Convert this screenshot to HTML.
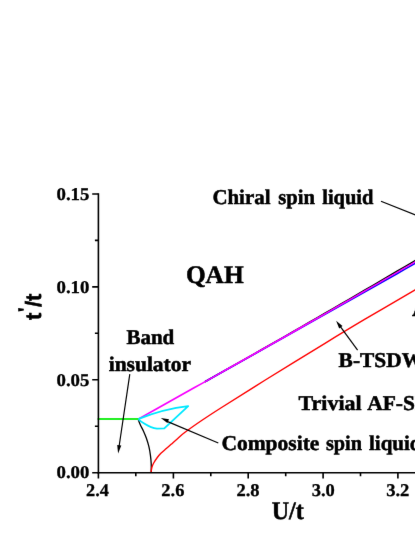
<!DOCTYPE html>
<html>
<head>
<meta charset="utf-8">
<title>Phase diagram</title>
<style>
  html, body { margin: 0; padding: 0; background: #ffffff; overflow: hidden; }
  body { width: 415px; height: 537px; overflow: hidden; position: relative; }
  .wrap { position: absolute; left: 0; top: 0; width: 415px; height: 537px; overflow: hidden; background: #ffffff; }
  svg { position: absolute; left: 0; top: 0; display: block; will-change: transform; }
  text { font-family: "Liberation Serif", serif; font-weight: bold; fill: #000; stroke: #000; stroke-width: 0.3px; text-rendering: geometricPrecision; }
  .tick { font-size: 18px; }
  .ann { font-size: 21px; }
  .sans { font-family: "Liberation Sans", sans-serif; font-weight: bold; }
</style>
</head>
<body>
<div class="wrap">
<svg width="435" height="537" viewBox="0 0 435 537">
  <defs><filter id="soft" x="0" y="0" width="100%" height="100%" filterUnits="objectBoundingBox" color-interpolation-filters="sRGB"><feConvolveMatrix order="3" kernelMatrix="0.00276 0.04704 0.00276 0.04704 0.80077 0.04704 0.00276 0.04704 0.00276" edgeMode="duplicate" preserveAlpha="true"/></filter></defs>
  <g filter="url(#soft)">
  <rect x="0" y="0" width="435" height="537" fill="#ffffff"/>

  <!-- curves -->
  <g fill="none" stroke-linecap="butt" stroke-linejoin="round">
    <!-- black curve down -->
    <path d="M138.10,419.10 C138.48,420.08 139.52,423.02 140.40,425.00 C141.28,426.98 142.40,428.78 143.40,431.00 C144.40,433.22 145.48,435.68 146.40,438.30 C147.32,440.92 148.23,443.90 148.90,446.70 C149.57,449.50 150.02,452.28 150.40,455.10 C150.78,457.92 151.07,460.67 151.20,463.60 C151.33,466.53 151.20,471.18 151.20,472.70" stroke="#000000" stroke-width="1.3"/>
    <!-- red -->
    <path d="M151.00,472.70 C151.15,471.78 151.45,468.82 151.90,467.20 C152.35,465.58 152.80,464.62 153.70,463.00 C154.60,461.38 156.10,459.12 157.30,457.50 C158.50,455.88 159.40,454.80 160.90,453.30 C162.40,451.80 164.60,450.00 166.30,448.50 C168.00,447.00 169.28,445.90 171.10,444.30 C172.92,442.70 174.88,440.90 177.20,438.90 C179.52,436.90 180.87,435.40 185.00,432.30 C189.13,429.20 196.03,424.35 202.00,420.30 C207.97,416.25 210.25,414.72 220.80,408.00 C231.35,401.28 247.93,390.78 265.30,380.00 C282.67,369.22 308.38,353.43 325.00,343.30 C341.62,333.17 349.83,328.18 365.00,319.20 C380.17,310.22 407.50,294.37 416.00,289.40 L436,277.7" stroke="#ff0000" stroke-width="1.35"/>
    <!-- black top line -->
    <path d="M205.00,381.73 L213.00,377.21 L221.00,372.69 L229.00,368.17 L237.00,363.64 L245.00,359.10 L253.00,354.56 L261.00,350.01 L269.00,345.46 L277.00,340.90 L285.00,336.33 L293.00,331.72 L301.00,327.11 L309.00,322.49 L317.00,317.86 L325.00,313.23 L333.00,308.59 L341.00,303.95 L349.00,299.30 L357.00,294.65 L365.00,289.99 L373.00,285.31 L381.00,280.62 L389.00,275.93 L397.00,271.24 L405.00,266.53 L413.00,261.84 L421.00,257.15 L429.00,252.44 L436.00,248.32" stroke="#000000" stroke-width="1.5"/>
    <!-- blue line -->
    <path d="M205.00,381.73 L213.00,377.26 L221.00,372.79 L229.00,368.31 L237.00,363.83 L245.00,359.34 L253.00,354.85 L261.00,350.35 L269.00,345.85 L277.00,341.34 L285.00,336.82 L293.00,332.34 L301.00,327.86 L309.00,323.37 L317.00,318.87 L325.00,314.37 L333.00,309.87 L341.00,305.36 L349.00,300.84 L357.00,296.32 L365.00,291.79 L373.00,287.27 L381.00,282.74 L389.00,278.21 L397.00,273.68 L405.00,269.13 L413.00,264.57 L421.00,260.00 L429.00,255.43 L436.00,251.42" stroke="#0000ff" stroke-width="1.6"/>
    <!-- magenta line -->
    <path d="M137.71,418.40 L145.71,413.95 L153.71,409.49 L161.70,405.03 L169.70,400.56 L177.70,396.08 L185.69,391.60 L193.69,387.12 L201.69,382.63 L209.69,378.13 L217.68,373.63 L225.68,369.12 L233.68,364.61 L241.68,360.09 L249.67,355.57 L257.67,351.04 L265.67,346.51 L273.66,341.97 L281.66,337.43 L289.66,332.88 L297.66,328.32 L305.66,323.78 L313.67,319.23 L321.68,314.68 L329.69,310.13 L337.70,305.56 L345.70,301.00 L353.71,296.43 L361.72,291.85 L369.73,287.27 L377.74,282.68 L385.74,278.07 L393.74,273.46 L401.74,268.84 L409.74,264.21 L417.74,259.58 L425.74,254.95 L433.74,250.30 L435.64,249.20 L436.36,250.45 L434.46,251.55 L426.46,256.19 L418.46,260.83 L410.46,265.46 L402.46,270.08 L394.46,274.70 L386.46,279.32 L378.46,283.93 L370.47,288.55 L362.48,293.17 L354.49,297.78 L346.50,302.38 L338.50,306.98 L330.51,311.57 L322.52,316.16 L314.53,320.74 L306.54,325.32 L298.54,329.89 L290.54,334.43 L282.54,338.97 L274.54,343.51 L266.53,348.04 L258.53,352.56 L250.53,357.08 L242.52,361.60 L234.52,366.11 L226.52,370.61 L218.52,375.11 L210.51,379.60 L202.51,384.09 L194.51,388.57 L186.51,393.05 L178.50,397.52 L170.50,401.99 L162.50,406.45 L154.49,410.90 L146.49,415.35 L138.49,419.80 Z" fill="#f800ff" stroke="none"/>
    <!-- cyan -->
    <path d="M138.1,419.1 C155,412.5 172,408 188.2,406.2 L164.3,428.3 L157,428.6 C152.5,428.2 148.5,426.3 144.6,423.8 C141.7,422 139.6,420.5 138.1,419.1 Z" stroke="#00e8ff" stroke-width="1.8"/>
    <!-- green -->
    <path d="M97.6,419.0 L138.3,419.0" stroke="#22ee22" stroke-width="1.8"/>
  </g>

  <!-- axes -->
  <g stroke="#000" stroke-width="1.6" fill="none" stroke-linecap="butt">
    <path d="M98.4,193.2 L98.4,473.5"/>
    <path d="M97.6,472.7 L436,472.7"/>
    <!-- y major ticks -->
    <path d="M92.2,194 H98.4 M92.2,286.9 H98.4 M92.2,379.8 H98.4 M92.2,472.7 H98.4"/>
    <!-- y minor ticks -->
    <path d="M94.9,240.4 H98.4 M94.9,333.3 H98.4 M94.9,426.2 H98.4"/>
    <!-- x major ticks -->
    <path d="M98.4,472.7 V478.5 M173.4,472.7 V478.5 M248.2,472.7 V478.5 M323.1,472.7 V478.5 M397.9,472.7 V478.5"/>
    <!-- x minor ticks -->
    <path d="M135.8,472.7 V476.2 M210.8,472.7 V476.2 M285.7,472.7 V476.2 M360.5,472.7 V476.2"/>
  </g>

  <!-- text labels -->
  <g>
  <text transform="translate(212.40,203.9) scale(0.9948,1)" style="font-size:21.0px;stroke-width:0.5px">Chiral</text>
  <text transform="translate(278.21,203.9) scale(0.9837,1)" style="font-size:21.0px;stroke-width:0.5px">spin</text>
  <text transform="translate(322.20,203.9) scale(0.9752,1)" style="font-size:21.0px;stroke-width:0.5px">liquid</text>
  <text transform="translate(185.89,283.3) scale(1.0071,1)" style="font-size:25.2px;stroke-width:0.5px">QAH</text>
  <text transform="translate(271.72,518.9) scale(0.9551,1)" style="font-size:25.2px;stroke-width:0.5px">U/t</text>
  <text transform="translate(126.40,344.0) scale(1.0000,1)" style="font-size:21.0px;stroke-width:0.5px">Band</text>
  <text transform="translate(108.69,371.3) scale(1.0225,1)" style="font-size:21.0px;stroke-width:0.5px">insulator</text>
  <text transform="translate(338.60,366.7) scale(1.0200,1)" style="font-size:21.0px;stroke-width:0.5px">B-TSDW</text>
  <text transform="translate(298.60,410.4) scale(1.0449,1)" style="font-size:21.0px;stroke-width:0.5px">Trivial</text>
  <text transform="translate(367.20,410.4) scale(1.0230,1)" style="font-size:21.0px;stroke-width:0.5px">AF-SDW</text>
  <text transform="translate(221.38,450.2) scale(1.0243,1)" style="font-size:21.0px;stroke-width:0.5px">Composite</text>
  <text transform="translate(325.91,450.2) scale(0.9648,1)" style="font-size:21.0px;stroke-width:0.5px">spin</text>
  <text transform="translate(369.00,450.2) scale(0.9990,1)" style="font-size:21.0px;stroke-width:0.5px">liquid</text>
  <text transform="translate(411.90,316.2) scale(1.0000,1)" style="font-size:25.2px;stroke-width:0.5px">A</text>
  <text transform="translate(56.47,200) scale(1.0461,1)" style="font-size:18.0px;stroke-width:0.3px">0.15</text>
  <text transform="translate(56.47,293) scale(1.0461,1)" style="font-size:18.0px;stroke-width:0.3px">0.10</text>
  <text transform="translate(56.47,386) scale(1.0461,1)" style="font-size:18.0px;stroke-width:0.3px">0.05</text>
  <text transform="translate(56.47,478) scale(1.0461,1)" style="font-size:18.0px;stroke-width:0.3px">0.00</text>
  <text transform="translate(86.04,496.4) scale(1.0138,1)" style="font-size:18.0px;stroke-width:0.3px">2.4</text>
  <text transform="translate(161.33,496.4) scale(1.0233,1)" style="font-size:18.0px;stroke-width:0.3px">2.6</text>
  <text transform="translate(236.43,496.4) scale(1.0280,1)" style="font-size:18.0px;stroke-width:0.3px">2.8</text>
  <text transform="translate(311.63,496.4) scale(1.0280,1)" style="font-size:18.0px;stroke-width:0.3px">3.0</text>
  <text transform="translate(386.13,496.4) scale(1.0329,1)" style="font-size:18.0px;stroke-width:0.3px">3.2</text>
  </g>

  <!-- y axis title -->
  <g transform="translate(41.0,320) rotate(-90)">
    <text class="sans" x="0" y="0" style="font-size:22.2px;stroke-width:0.5px">t</text>
    <text class="sans" x="12.9" y="0" style="font-size:22.2px;stroke-width:0.5px">/</text>
    <text class="sans" x="19.0" y="0" style="font-size:22.2px;stroke-width:0.5px">t</text>
    <path d="M8.6,-22.8 L12.1,-22.8 L11.2,-17.2 L9.6,-17.2 Z" fill="#000"/>
  </g>

  <!-- arrow lines -->
  <g stroke="#000" stroke-width="1.2" fill="none">
    <path d="M381.0,201.3 L436,223.1"/>
    <path d="M129.8,374.2 L119.0,447"/>
    <path d="M357.6,350.1 L340.0,326.2"/>
    <path d="M218.3,443.0 L166.5,421.1"/>
  </g>
  <g fill="#000" stroke="none">
    <!-- band insulator arrow head -->
    <path d="M118.1,453.4 L117.2,445.0 L121.3,445.6 Z"/>
    <!-- B-TSDW arrow head -->
    <path d="M336.1,320.8 L342.5,326.1 L339.2,328.6 Z"/>
    <!-- composite arrow head -->
    <path d="M160.8,418.0 L169.0,419.2 L167.4,423.0 Z"/>
  </g>
  </g>
</svg>
</div>
</body>
</html>
